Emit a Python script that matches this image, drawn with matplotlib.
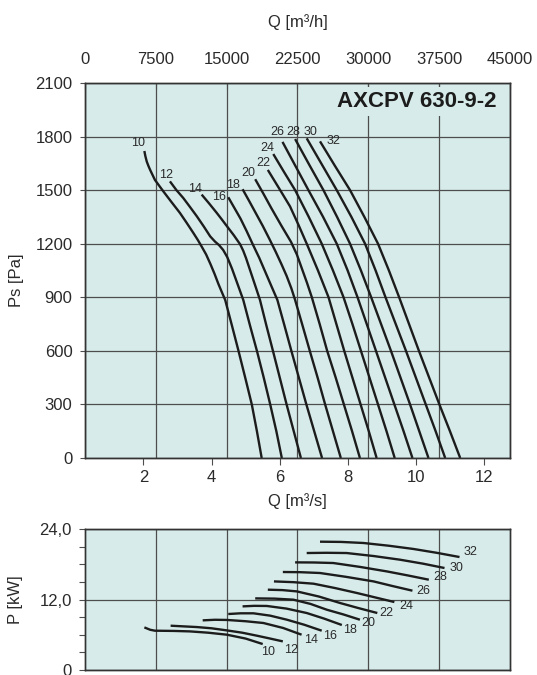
import matplotlib
matplotlib.use('Agg')
import matplotlib.pyplot as plt

plt.rcParams['font.family'] = ['Liberation Sans', 'DejaVu Sans']

# blade angles of the fan curves
angles = [10, 12, 14, 16, 18, 20, 22, 24, 26, 28, 30, 32]

# static pressure curves: flow Q [m3/s] and Ps [Pa]
ps_q = [
    [2.03, 2.06, 2.10, 2.15, 2.20, 2.34, 2.59, 2.83, 3.07, 3.27, 3.47, 3.60, 3.71, 3.84, 3.97, 4.09,
     4.20, 4.31, 4.40, 4.60, 4.79, 5.00, 5.18, 5.33, 5.47],
    [2.78, 2.97, 3.17, 3.37, 3.57, 3.77, 3.96, 4.10, 4.22, 4.34, 4.46, 4.60, 4.77, 4.93, 5.13, 5.33,
     5.53, 5.72, 5.90, 6.06],
    [3.71, 3.93, 4.15, 4.30, 4.45, 4.65, 4.84, 4.93, 5.01, 5.15, 5.29, 5.42, 5.61, 5.80, 6.00, 6.20,
     6.41, 6.62],
    [4.49, 4.67, 4.85, 5.03, 5.20, 5.40, 5.58, 5.76, 5.93, 6.14, 6.34, 6.56, 6.78, 7.01, 7.24],
    [4.91, 5.10, 5.30, 5.50, 5.70, 5.88, 6.05, 6.20, 6.34, 6.45, 6.67, 6.88, 7.11, 7.33, 7.56, 7.79],
    [5.28, 5.52, 5.75, 6.05, 6.33, 6.50, 6.65, 6.80, 6.94, 7.17, 7.39, 7.64, 7.88, 8.12, 8.35],
    [5.65, 5.98, 6.30, 6.55, 6.79, 7.12, 7.43, 7.66, 7.89, 8.13, 8.37, 8.61, 8.84],
    [5.81, 6.13, 6.45, 6.85, 7.23, 7.56, 7.87, 8.13, 8.38, 8.63, 8.88, 9.13, 9.37],
    [6.08, 6.46, 6.84, 7.27, 7.67, 7.99, 8.28, 8.55, 8.82, 9.09, 9.36, 9.63, 9.89],
    [6.45, 6.87, 7.28, 7.68, 8.06, 8.38, 8.68, 8.97, 9.26, 9.54, 9.82, 10.09, 10.36],
    [6.79, 7.23, 7.67, 8.10, 8.50, 8.81, 9.10, 9.40, 9.70, 9.99, 10.28, 10.57, 10.85],
    [7.18, 7.62, 8.06, 8.48, 8.88, 9.20, 9.50, 9.79, 10.08, 10.38, 10.68, 10.99, 11.29],
]
ps_pa = [
    [1719, 1690, 1660, 1635, 1613, 1557, 1492, 1432, 1373, 1317, 1259, 1220, 1184, 1140, 1085, 1030,
     975, 925, 885, 740, 600, 440, 300, 150, 0],
    [1549, 1500, 1456, 1405, 1353, 1297, 1241, 1212, 1192, 1165, 1125, 1060, 970, 885, 740, 600,
     450, 300, 150, 0],
    [1475, 1425, 1373, 1336, 1298, 1248, 1196, 1160, 1120, 1040, 960, 885, 740, 600, 450, 300,
     150, 0],
    [1460, 1400, 1340, 1270, 1200, 1120, 1040, 960, 885, 740, 600, 450, 300, 150, 0],
    [1505, 1440, 1370, 1300, 1225, 1155, 1085, 1020, 950, 885, 740, 600, 450, 300, 150, 0],
    [1561, 1480, 1400, 1300, 1210, 1140, 1060, 980, 900, 750, 600, 450, 300, 150, 0],
    [1613, 1510, 1409, 1305, 1200, 1050, 900, 750, 600, 450, 300, 150, 0],
    [1702, 1600, 1500, 1350, 1200, 1050, 900, 750, 600, 450, 300, 150, 0],
    [1770, 1635, 1500, 1350, 1200, 1050, 900, 750, 600, 450, 300, 150, 0],
    [1786, 1640, 1500, 1350, 1200, 1050, 900, 750, 600, 450, 300, 150, 0],
    [1790, 1645, 1500, 1350, 1200, 1050, 900, 750, 600, 450, 300, 150, 0],
    [1773, 1635, 1500, 1350, 1200, 1050, 900, 750, 600, 450, 300, 150, 0],
]

# shaft power curves: flow Q [m3/s] and P [kW]
pw_q = [
    [2.03, 2.20, 2.34, 2.90, 3.37, 3.90, 4.45, 5.00, 5.50],
    [2.80, 3.57, 4.00, 4.45, 4.90, 5.33, 5.72, 6.09],
    [3.74, 4.10, 4.45, 5.00, 5.52, 6.10, 6.64],
    [4.49, 4.85, 5.23, 5.72, 6.21, 6.72, 7.23],
    [4.91, 5.25, 5.62, 6.20, 6.79, 7.30, 7.82],
    [5.28, 5.85, 6.40, 6.90, 7.38, 7.87, 8.35],
    [5.65, 6.08, 6.50, 7.15, 7.77, 8.30, 8.86],
    [5.83, 6.40, 6.99, 7.62, 8.26, 8.80, 9.36],
    [6.09, 6.60, 7.18, 7.95, 8.75, 9.30, 9.89],
    [6.45, 7.00, 7.57, 8.35, 9.14, 9.75, 10.37],
    [6.79, 7.37, 7.96, 8.75, 9.53, 10.20, 10.83],
    [7.18, 7.80, 8.45, 9.20, 9.92, 10.60, 11.27],
]
pw_kw = [
    [7.25, 6.85, 6.69, 6.65, 6.57, 6.35, 6.01, 5.35, 4.42],
    [7.54, 7.31, 7.10, 6.74, 6.35, 5.84, 5.35, 4.87],
    [8.45, 8.55, 8.52, 8.30, 8.00, 7.15, 6.01],
    [9.53, 9.65, 9.65, 9.25, 8.56, 7.70, 6.69],
    [10.83, 10.92, 10.90, 10.45, 9.70, 8.75, 7.66],
    [12.19, 12.15, 11.97, 11.25, 10.26, 9.45, 8.56],
    [13.67, 13.60, 13.38, 12.50, 11.40, 10.55, 9.70],
    [15.08, 14.95, 14.69, 13.95, 13.11, 12.35, 11.57],
    [16.68, 16.65, 16.51, 15.85, 15.08, 14.30, 13.50],
    [18.32, 18.30, 18.21, 17.55, 16.78, 16.10, 15.37],
    [19.91, 19.95, 19.91, 19.40, 18.77, 18.10, 17.36],
    [21.84, 21.80, 21.62, 21.15, 20.60, 19.95, 19.23],
]

q_ticks = [2, 4, 6, 8, 10, 12]
qh_ticks = [0, 7500, 15000, 22500, 30000, 37500, 45000]
ps_ticks = [0, 300, 600, 900, 1200, 1500, 1800, 2100]
kw_ticks = [0, 12, 24]
kw_ticklabels = ['0', '12,0', '24,0']
kw_minor = [3, 6, 9, 15, 18, 21]

# label offsets (points) from the first point of a Ps curve / last point of a P curve
ps_lbl_off = [(-4.3, 6), (-2.6, 4.3), (-4.8, 4.1), (-6.5, 0), (-6.8, 2.9), (-5.3, 4.8),
              (-3.6, 4.8), (-4, 4.5), (-4, 7), (-1.2, 5.3), (2.9, 4.3), (10, 0)]
pw_lbl_off = [(4, -6), (5.8, -6), (6.5, -3.6), (6, -4.1), (6, -3.9), (6, -2.4),
              (6.8, 0), (8.9, -2.7), (7.9, 0), (8.1, 1.7), (8.4, 0), (7.7, 3.6)]

BG = '#d7ecea'
GRID = '#4d4d4d'
INK = '#1c1c1c'
TXT = '#2a2a2a'
QLIM = (0.29, 12.75)
FS = 12

fig = plt.figure(figsize=(5.37, 6.75), dpi=100)

# ---- static pressure chart ----
ax = fig.add_axes([0.1583, 0.3215, 0.7914, 0.5556])
axh = ax.twiny()
ax.set_zorder(2)
axh.set_zorder(1)
ax.patch.set_visible(False)
axh.patch.set_visible(True)
axh.patch.set_facecolor(BG)

ax.set_xlim(*QLIM)
ax.set_ylim(0, 2100)
axh.set_xlim(0, 45000)

ax.set_xticks(q_ticks)
ax.set_yticks(ps_ticks)
axh.set_xticks(qh_ticks)
axh.set_xticklabels([str(v) for v in qh_ticks])

ax.grid(axis='y', color=GRID, lw=0.9)
axh.grid(axis='x', color=GRID, lw=0.9)
ax.set_axisbelow(True)

ax.tick_params(axis='y', direction='out', length=3.5, width=0.8, pad=5.5, labelsize=FS, colors=GRID, labelcolor=TXT)
ax.tick_params(axis='x', direction='out', length=5, width=0.8, pad=4, labelsize=FS, colors=GRID, labelcolor=TXT)
axh.tick_params(axis='x', direction='in', length=4, width=0.8, pad=11.5, labelsize=FS, colors=GRID, labelcolor=TXT)

for a in (ax, axh):
    for s in a.spines.values():
        s.set_color('#333333')
        s.set_linewidth(1.0)

for i, a in enumerate(angles):
    ax.plot(ps_q[i], ps_pa[i], color=INK, lw=1.7, solid_joinstyle='round', solid_capstyle='butt')
    ax.annotate(str(a), (ps_q[i][0], ps_pa[i][0]), xytext=ps_lbl_off[i], textcoords='offset points',
                ha='center', va='center', fontsize=9, color=TXT)

ax.text(0.969, 0.950, 'AXCPV 630-9-2', transform=ax.transAxes, ha='right', va='center',
        fontsize=16, fontweight='bold', color=INK,
        bbox=dict(facecolor=BG, edgecolor='none', pad=3))

ax.set_xlabel('Q [m³/s]', fontsize=FS, color=TXT)
ax.xaxis.set_label_coords(0.5, -0.093)
ax.set_ylabel('Ps [Pa]', fontsize=FS, color=TXT)
ax.yaxis.set_label_coords(-0.1435, 0.475)
axh.set_xlabel('Q [m³/h]', fontsize=FS, color=TXT)
axh.xaxis.set_label_coords(0.5, 1.149)

# ---- shaft power chart ----
bx = fig.add_axes([0.1583, 0.0074, 0.7914, 0.2089])
bxh = bx.twiny()
bx.set_zorder(2)
bxh.set_zorder(1)
bx.patch.set_visible(False)
bxh.patch.set_visible(True)
bxh.patch.set_facecolor(BG)

bx.set_xlim(*QLIM)
bx.set_ylim(0, 24)
bxh.set_xlim(0, 45000)
bx.set_xticks([])
bx.set_yticks(kw_ticks)
bx.set_yticklabels(kw_ticklabels)
bx.set_yticks(kw_minor, minor=True)
bxh.set_xticks(qh_ticks[1:-1])
bxh.set_xticklabels([])

bx.grid(axis='y', which='major', color=GRID, lw=0.9)
bxh.grid(axis='x', color=GRID, lw=0.9)
bx.tick_params(axis='y', which='both', direction='out', length=4, width=0.8, pad=5.5,
               labelsize=FS, colors=GRID, labelcolor=TXT)
bxh.tick_params(axis='x', length=0)

for a in (bx, bxh):
    for s in a.spines.values():
        s.set_color('#333333')
        s.set_linewidth(1.0)

for i, a in enumerate(angles):
    bx.plot(pw_q[i], pw_kw[i], color=INK, lw=1.7, solid_joinstyle='round', solid_capstyle='butt')
    bx.annotate(str(a), (pw_q[i][-1], pw_kw[i][-1]), xytext=pw_lbl_off[i], textcoords='offset points',
                ha='center', va='center', fontsize=9, color=TXT)

bx.set_ylabel('P [kW]', fontsize=FS, color=TXT)
bx.yaxis.set_label_coords(-0.145, 0.496)

fig.savefig('out.png', dpi=100, facecolor='white')
